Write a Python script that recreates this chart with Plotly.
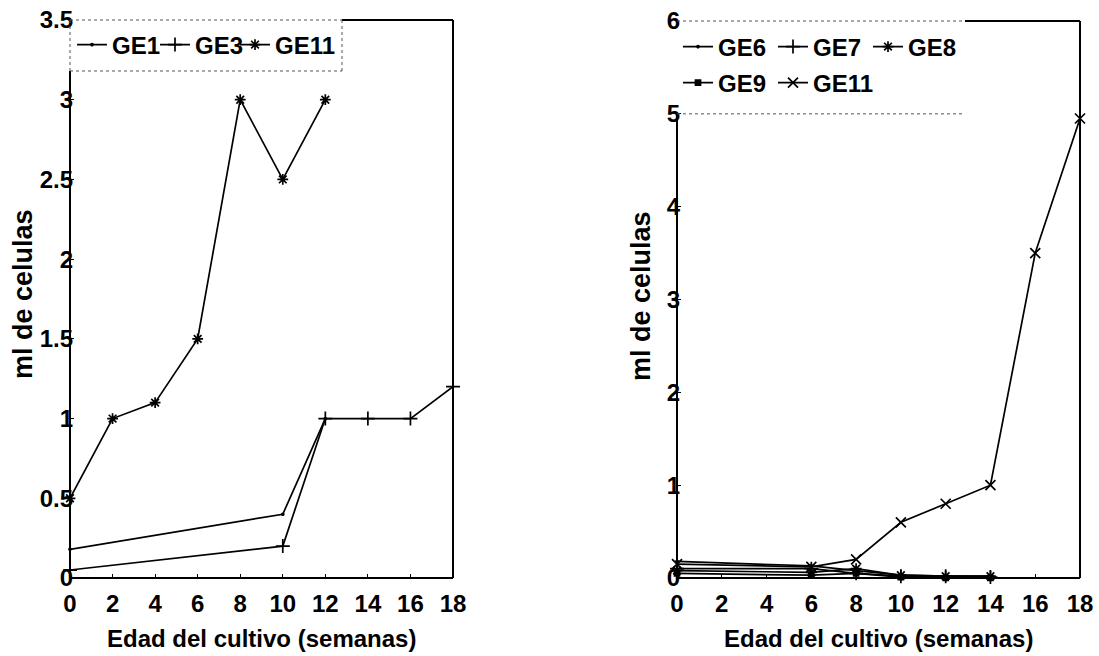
import plotly.graph_objects as go

# ---------------- data ----------------
weeks_ticks = [0, 2, 4, 6, 8, 10, 12, 14, 16, 18]

# left panel
ge1_x = [0, 10, 12]
ge1_y = [0.18, 0.40, 1.0]
ge3_x = [0, 10, 12, 14, 16, 18]
ge3_y = [0.05, 0.20, 1.0, 1.0, 1.0, 1.2]
ge11a_x = [0, 2, 4, 6, 8, 10, 12]
ge11a_y = [0.5, 1.0, 1.1, 1.5, 3.0, 2.5, 3.0]

# right panel
r_x = [0, 6, 8, 10, 12, 14]
ge6_y = [0.18, 0.13, 0.08, 0.03, 0.02, 0.02]
ge7_y = [0.10, 0.10, 0.05, 0.02, 0.02, 0.01]
ge8_y = [0.08, 0.06, 0.10, 0.03, 0.02, 0.02]
ge9_y = [0.05, 0.03, 0.05, 0.01, 0.0, 0.0]
ge11b_x = [0, 6, 8, 10, 12, 14, 16, 18]
ge11b_y = [0.15, 0.12, 0.2, 0.6, 0.8, 1.0, 3.5, 4.95]

left_yticks = [0, 0.5, 1, 1.5, 2, 2.5, 3, 3.5]
left_ylabels = ["0", "0.5", "1", "1.5", "2", "2.5", "3", "3.5"]
right_yticks = [0, 1, 2, 3, 4, 5, 6]

x_title = "Edad del cultivo (semanas)"
y_title = "ml de celulas"

# ---------------- style ----------------
FONT = "Liberation Sans, Arial, Helvetica, sans-serif"
W, H = 1099, 656
LINE = dict(color="black", width=1.7)

fig = go.Figure()

# (x, y, name, symbol, size, xaxis, yaxis, legend-left-px, legend-center-y-px)
series = [
    (ge1_x, ge1_y, "GE1", "circle", 2, "x", "y", 72, 45),
    (ge3_x, ge3_y, "GE3", "cross-thin-open", 10, "x", "y", 155, 45),
    (ge11a_x, ge11a_y, "GE11", "asterisk-open", 9, "x", "y", 235, 45),
    (r_x, ge6_y, "GE6", "circle", 2, "x2", "y2", 678, 47),
    (r_x, ge7_y, "GE7", "cross-thin-open", 10, "x2", "y2", 773, 47),
    (r_x, ge8_y, "GE8", "asterisk-open", 9, "x2", "y2", 868, 47),
    (r_x, ge9_y, "GE9", "square", 5, "x2", "y2", 678, 83),
    (ge11b_x, ge11b_y, "GE11", "x-thin-open", 10, "x2", "y2", 773, 83),
]

legfont = dict(family=FONT, size=24, color="black", weight="bold")
legends = {}
for i, (x, y, name, sym, size, xa, ya, lx, lyc) in enumerate(series):
    key = "legend" if i == 0 else f"legend{i + 1}"
    fig.add_trace(go.Scatter(
        x=x, y=y, name=name, mode="lines+markers",
        line=LINE,
        marker=dict(symbol=sym, size=size, color="black",
                    line=dict(color="black", width=1.7)),
        xaxis=xa, yaxis=ya, legend=key, cliponaxis=False,
    ))
    legends[key] = dict(x=lx / W, y=1 - lyc / H, xanchor="left", yanchor="middle",
                        orientation="h", bgcolor="rgba(0,0,0,0)", borderwidth=0,
                        font=legfont, itemwidth=30, itemclick=False,
                        itemdoubleclick=False)

# domains (paper fractions)
lx0, lx1 = 70 / W, 453 / W
rx0, rx1 = 677 / W, 1080 / W
ly0, ly1 = 1 - 578 / H, 1 - 20 / H
ry0, ry1 = 1 - 578 / H, 1 - 21 / H

tickfont = dict(family=FONT, size=24, color="black", weight="bold")
axcommon = dict(showgrid=False, zeroline=False, showline=False,
                ticks="inside", ticklen=4, tickcolor="black",
                tickfont=tickfont, automargin=False)

fig.update_layout(
    width=W, height=H,
    margin=dict(l=0, r=0, t=0, b=0, autoexpand=False),
    paper_bgcolor="white", plot_bgcolor="white",
    showlegend=True,
    xaxis=dict(domain=[lx0, lx1], range=[0, 18], tickvals=weeks_ticks,
               anchor="y", ticklabelstandoff=9, **axcommon),
    yaxis=dict(domain=[ly0, ly1], range=[0, 3.5], tickvals=left_yticks,
               ticktext=left_ylabels, anchor="x", ticklabelstandoff=-4, **axcommon),
    xaxis2=dict(domain=[rx0, rx1], range=[0, 18], tickvals=weeks_ticks,
                anchor="y2", ticklabelstandoff=9, **axcommon),
    yaxis2=dict(domain=[ry0, ry1], range=[0, 6], tickvals=right_yticks,
                anchor="x2", ticklabelstandoff=-4, **axcommon),
    **legends,
)

# frames
shapes = []
def frame(xd, yd, leg_x1, leg_y0, left_dotted):
    solid = dict(color="black", width=2)
    dot = dict(color="#555555", width=1, dash="dot")
    xr, yr = xd + " domain", yd + " domain"
    shapes.append(dict(type="line", xref=xr, yref=yr, x0=0, x1=1, y0=0, y1=0, line=solid))
    shapes.append(dict(type="line", xref=xr, yref=yr, x0=1, x1=1, y0=0, y1=1, line=solid))
    shapes.append(dict(type="line", xref=xr, yref=yr, x0=leg_x1, x1=1, y0=1, y1=1, line=solid))
    shapes.append(dict(type="line", xref=xr, yref=yr, x0=0, x1=0, y0=0, y1=leg_y0, line=solid))
    shapes.append(dict(type="line", xref=xr, yref=yr, x0=0, x1=leg_x1, y0=1, y1=1, line=dot))
    shapes.append(dict(type="line", xref=xr, yref=yr, x0=0, x1=leg_x1, y0=leg_y0, y1=leg_y0, line=dot))
    if left_dotted:
        shapes.append(dict(type="line", xref=xr, yref=yr, x0=0, x1=0, y0=leg_y0, y1=1, line=dot))
        shapes.append(dict(type="line", xref=xr, yref=yr, x0=leg_x1, x1=leg_x1, y0=leg_y0, y1=1, line=dot))

frame("x", "y", (342 - 70) / 383, (578 - 71) / 558, True)
frame("x2", "y2", (965 - 677) / 403, 5 / 6, False)
fig.update_layout(shapes=shapes)

xtitlefont = dict(family=FONT, size=24, color="black", weight="bold")
ytitlefont = dict(family=FONT, size=27, color="black", weight="bold")
ann = []
for cx in [(lx0 + lx1) / 2, (rx0 + rx1) / 2]:
    ann.append(dict(text=x_title, xref="paper", yref="paper", x=cx, y=1 - 638 / H,
                    showarrow=False, font=xtitlefont, xanchor="center", yanchor="middle"))
for cx, cy in [(23 / W, 1 - 294 / H), (641 / W, 1 - 296 / H)]:
    ann.append(dict(text=y_title, xref="paper", yref="paper", x=cx, y=cy, textangle=-90,
                    showarrow=False, font=ytitlefont, xanchor="center", yanchor="middle"))
fig.update_layout(annotations=ann)

fig.write_html("out.html",
               config={"displayModeBar": False},
               post_script="document.body.style.margin='0px';document.body.style.overflow='hidden';")
